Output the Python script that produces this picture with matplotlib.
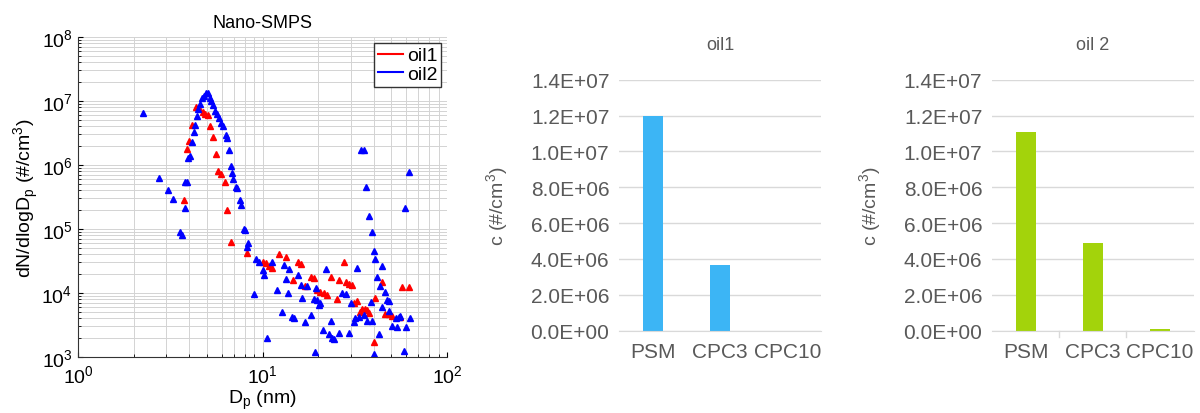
import matplotlib
matplotlib.use("Agg")
import matplotlib.pyplot as plt
import numpy as np

plt.rcParams['font.family'] = ['Liberation Sans', 'DejaVu Sans']

# Nano-SMPS size distribution
oil1_dp = [3.77, 3.90, 4.01, 4.15, 4.35, 4.55, 4.74, 4.90, 5.04, 5.20, 5.40, 5.60,
           5.74, 5.95, 6.27, 6.46, 6.75, 8.25, 10.0, 10.4, 10.9, 11.2, 12.3, 13.4,
           14.7, 15.5, 16.1, 17.1, 18.3, 19.0, 19.8, 20.6, 21.5, 22.4, 23.4, 25.4,
           25.9, 27.6, 28.2, 29.4, 30.4, 31.3, 32.6, 33.7, 34.7, 35.9, 36.9, 37.6,
           40.0, 40.8, 44.6, 46.4, 48.5, 50.4, 55.8, 57.0, 62.2]
oil1_n = [2.8e5, 1.8e6, 2.4e6, 4.2e6, 8.0e6, 7.8e6, 6.8e6, 6.3e6, 6.0e6, 4.0e6, 2.7e6, 1.5e6,
          8.2e5, 7.3e5, 5.5e5, 2.0e5, 6.3e4, 4.2e4, 3.0e4, 2.9e4, 2.6e4, 2.5e4, 4.1e4, 3.7e4,
          1.6e4, 3.0e4, 2.8e4, 1.3e4, 1.8e4, 1.7e4, 1.1e4, 1.05e4, 1.0e4, 9.3e3, 1.75e4, 8.2e3,
          1.6e4, 3.0e4, 1.5e4, 1.4e4, 1.35e4, 7.0e3, 7.5e3, 5.0e3, 5.6e3, 5.6e3, 5.5e3, 4.8e3,
          1.7e3, 8.5e3, 1.5e4, 4.7e3, 4.7e3, 4.4e3, 4.2e3, 1.25e4, 1.25e4]

oil2_dp = [2.25, 2.76, 3.07, 3.29, 3.56, 3.66, 3.80, 3.80, 3.90, 3.93, 4.03, 4.13, 4.27,
           4.33, 4.40, 4.47, 4.60, 4.69, 4.83, 4.94, 5.08, 5.17, 5.28, 5.40, 5.50, 5.65,
           5.83, 5.95, 6.10, 6.33, 6.40, 6.55, 6.75, 6.80, 6.95, 7.17, 7.25, 7.55, 7.65,
           7.90, 8.00, 8.25, 8.35, 9.02, 9.25, 9.55, 10.0, 10.2, 10.6, 11.2, 12.0, 12.8,
           13.1, 13.4, 13.7, 13.9, 14.5, 14.8, 15.5, 16.1, 16.4, 17.1, 17.5, 18.3, 18.9,
           19.2, 19.4, 19.8, 20.2, 20.6, 21.2, 22.0, 22.9, 23.4, 23.9, 24.4, 25.9, 27.0,
           28.2, 29.4, 30.0, 31.3, 31.9, 32.6, 33.3, 34.0, 35.3, 35.6, 36.2, 36.9, 37.6,
           38.6, 39.3, 39.3, 40.0, 40.0, 40.8, 41.6, 42.7, 43.5, 44.6, 44.6, 46.4, 47.3,
           48.5, 48.5, 50.4, 52.6, 53.7, 54.8, 55.8, 58.3, 59.5, 60.0, 62.2, 62.8]
oil2_n = [6.5e6, 6.3e5, 4.0e5, 2.9e5, 9.0e4, 8.0e4, 2.1e5, 5.4e5, 5.5e5, 1.3e6, 1.4e6, 2.3e6, 3.3e6,
          4.2e6, 5.9e6, 7.6e6, 9.0e6, 1.1e7, 1.2e7, 1.35e7, 1.35e7, 1.1e7, 1.0e7, 8.8e6, 7.0e6, 6.2e6,
          5.5e6, 4.5e6, 4.0e6, 2.9e6, 2.6e6, 1.7e6, 9.5e5, 7.6e5, 6.0e5, 4.6e5, 4.3e5, 2.8e5, 2.4e5,
          1.0e5, 9.5e4, 5.2e4, 6.0e4, 9.5e3, 3.4e4, 3.1e4, 2.3e4, 1.9e4, 2.0e3, 3.0e4, 1.1e4, 5.0e3,
          2.7e4, 1.65e4, 1.0e4, 2.4e4, 4.2e3, 4.1e3, 1.9e4, 1.35e4, 8.5e3, 3.5e3, 1.3e4, 4.6e3, 8.0e3,
          1.2e3, 1.2e4, 7.8e3, 6.4e3, 7.0e3, 2.6e3, 2.4e4, 2.3e3, 3.7e3, 2.0e3, 1.9e3, 2.4e3, 1.0e4,
          9.5e3, 2.4e3, 7.0e3, 3.5e3, 4.0e3, 2.5e4, 4.2e3, 1.7e6, 1.7e6, 4.5e3, 4.5e5, 3.7e3, 1.6e5,
          7.2e3, 9.0e4, 3.6e3, 4.6e4, 1.1e3, 3.4e4, 1.8e4, 2.3e3, 1.3e4, 2.6e4, 6.0e3, 1.05e4, 7.8e3,
          7.6e3, 5.2e3, 3.1e3, 4.0e3, 2.9e3, 4.2e3, 4.3e3, 1.25e3, 2.1e5, 2.9e3, 7.8e5, 4.0e3]

# total concentrations per counter
counters = ["PSM", "CPC3", "CPC10"]
oil1_conc = [1.2e7, 3.65e6, 0.0]
oil2_conc = [1.11e7, 4.87e6, 1.0e5]

gray = "#595959"

fig = plt.figure(figsize=(12, 4.14), dpi=100)

# --- left: Nano-SMPS scatter
ax = fig.add_axes([0.065, 0.1353, 0.3075, 0.7729])
ax.plot(oil1_dp, oil1_n, '^', color='red', ms=5, mec='red', label='oil1')
ax.plot(oil2_dp, oil2_n, '^', color='blue', ms=5, mec='blue', label='oil2')
ax.set_xscale('log')
ax.set_yscale('log')
ax.set_xlim(1, 100)
ax.set_ylim(1e3, 1e8)
ax.grid(True, which='both', color='#d3d3d3', lw=0.7)
ax.set_axisbelow(True)
ax.tick_params(which='both', direction='in', labelsize=14, top=False, right=False)
ax.tick_params(axis='x', pad=5)
ax.tick_params(axis='y', pad=4)
ax.set_title('Nano-SMPS', fontsize=13, pad=7)
ax.set_xlabel('D$_\\mathregular{p}$ (nm)', fontsize=14, labelpad=1)
ax.set_ylabel('dN/dlogD$_\\mathregular{p}$ (#/cm$^\\mathregular{3}$)', fontsize=14, labelpad=0)
for s in ['top', 'right']:
    ax.spines[s].set_visible(False)
ax.spines['left'].set_color('#333333')
ax.spines['bottom'].set_color('#333333')

h1, = ax.plot([], [], '-', color='red', lw=1.5)
h2, = ax.plot([], [], '-', color='blue', lw=1.5)
leg = ax.legend([h1, h2], ['oil1', 'oil2'], loc='upper right', fontsize=14,
                handlelength=1.3, handletextpad=0.2, borderpad=0.2, labelspacing=0.05,
                fancybox=False, framealpha=1, borderaxespad=0.3)
leg.get_frame().set_edgecolor('#333333')
leg.get_frame().set_linewidth(1.0)


def bar_panel(rect, values, color, title, ticks):
    bx = fig.add_axes(rect)
    x = np.arange(len(counters))
    bx.bar(x, values, width=0.3, color=color, zorder=2)
    bx.set_xlim(-0.5, len(counters) - 0.5)
    bx.set_ylim(0, 1.4e7)
    yt = np.arange(0, 1.41e7, 2e6)
    bx.set_yticks(yt)
    bx.set_yticklabels([f"{v:.1E}" for v in yt])
    bx.set_xticks(x)
    bx.set_xticklabels(counters)
    bx.grid(axis='y', color='#d9d9d9', lw=1.0, zorder=0)
    for s in ['top', 'right', 'left']:
        bx.spines[s].set_visible(False)
    bx.spines['bottom'].set_color('#d9d9d9')
    bx.tick_params(axis='both', colors=gray, labelsize=15, length=0)
    bx.tick_params(axis='y', pad=7)
    bx.tick_params(axis='x', pad=8)
    if ticks:
        for b in [0.5, 1.5]:
            bx.plot([b, b], [0, -0.025], color='#d9d9d9', lw=1.0,
                    transform=bx.get_xaxis_transform(), clip_on=False)
    bx.set_title(title, color=gray, fontsize=13, pad=22)
    bx.set_ylabel('c (#/cm$^\\mathregular{3}$)', color=gray, fontsize=14, labelpad=14)
    return bx


bar_panel([0.516, 0.1988, 0.168, 0.6063], oil1_conc, '#3cb5f5', 'oil1', False)
bar_panel([0.8267, 0.1988, 0.168, 0.6063], oil2_conc, '#a3d30b', 'oil 2', True)

fig.savefig('out.png', dpi=100)
